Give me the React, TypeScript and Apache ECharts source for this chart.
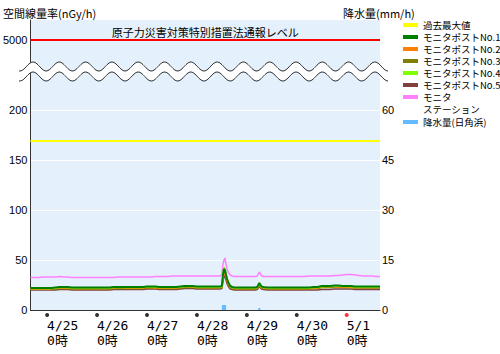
import React, { useEffect, useRef } from 'react';
import * as echarts from 'echarts';

// hours from 4/25 0:00
const TIMES = [
  -8, -6, -4, -2, 0, 2, 4, 6, 8, 10, 12, 14, 16, 18, 20, 22,
  24, 26, 28, 30, 32, 34, 36, 38, 40, 42, 44, 46,
  48, 50, 52, 54, 56, 58, 60, 62, 64, 66, 68, 70,
  72, 74, 76, 78, 80, 82,
  83, 84, 84.5, 85, 85.5, 86, 86.5, 87, 88, 89,
  90, 92, 94,
  96, 98, 100, 101, 102, 103, 104, 106, 108, 110, 112, 114, 116, 118,
  120, 122, 124, 126, 128, 130, 132, 134, 136, 138, 140, 142,
  144, 146, 148, 150, 152, 154, 156, 158, 160,
];

const POST1 = [
  22, 22, 22, 22, 22, 22, 22.5, 23, 23, 23, 22.5, 22.5, 22.5, 22.5, 22.5, 22.5,
  22.5, 22.5, 22.5, 22.5, 23, 23, 23, 23, 23, 23, 23, 23,
  23.5, 23.5, 23.5, 23, 23, 23, 23, 23, 23.5, 24, 24, 24,
  23.5, 23.5, 23.5, 23.5, 23.5, 23.5,
  23.5, 24, 35, 41, 40, 35, 31, 28, 24, 23,
  22.5, 22.5, 22.5,
  22.5, 22.5, 22.5, 23, 27, 23.5, 23, 22.5, 22.5, 22.5, 22.5, 22.5, 22.5, 22.5,
  22.5, 22.5, 22.5, 22.5, 23, 23, 24, 24, 24, 24.5, 24.5, 24,
  24, 24, 23.5, 23.5, 23.5, 23.5, 23.5, 23.5, 23.5,
];
const POST2 = [
  21, 21, 21, 21, 21, 21.5, 21.5, 22, 22, 22, 21.5, 21.5, 21.5, 21.5, 21.5, 21.5,
  21.5, 21.5, 21.5, 21.5, 22, 22.5, 22.5, 22, 22, 22, 22, 22,
  22.5, 22.5, 22, 22, 22, 22, 22, 22, 22.5, 23.5, 23.5, 23,
  22.5, 22.5, 22.5, 22.5, 22.5, 22.5,
  22.5, 23, 31, 37, 37, 33, 29, 26, 23, 22,
  21.5, 21.5, 21.5,
  21.5, 21.5, 21.5, 22, 25, 22.5, 22, 21.5, 21.5, 21.5, 21.5, 21.5, 21.5, 21.5,
  21.5, 21.5, 21.5, 21.5, 22, 22, 23, 23.5, 23.5, 23.5, 23, 23,
  23, 22.5, 22.5, 22.5, 22.5, 22.5, 22.5, 22.5, 22.5,
];
const POST3 = [
  21, 21, 21, 21, 21, 21, 21, 21.5, 21.5, 21.5, 21, 21, 21, 21, 21, 21,
  21, 21, 21, 21, 21.5, 21.5, 21.5, 21.5, 21.5, 21.5, 21.5, 21.5,
  22, 22, 22, 21.5, 21.5, 21.5, 21.5, 21.5, 22, 22.5, 22.5, 22.5,
  22, 22, 22, 22, 22, 22,
  22, 22.5, 33, 39, 38, 33, 29, 26, 22.5, 21.5,
  21, 21, 21,
  21, 21, 21, 21.5, 25.5, 22, 21.5, 21, 21, 21, 21, 21, 21, 21,
  21, 21, 21, 21, 21.5, 21.5, 22.5, 22.5, 22.5, 23, 23, 22.5,
  22.5, 22.5, 22, 22, 22, 22, 22, 22, 22,
];
const POST4 = [
  21.5, 21.5, 21.5, 21.5, 21.5, 21.5, 22, 22.5, 22.5, 22.5, 22, 22, 22, 22, 22, 22,
  22, 22, 22, 22, 22.5, 22.5, 22.5, 22.5, 22.5, 22.5, 22.5, 22.5,
  23, 23, 23, 22.5, 22.5, 22.5, 22.5, 22.5, 23, 23.5, 23.5, 23.5,
  23, 23, 23, 23, 23, 23,
  23, 23.5, 36, 43, 41, 36, 32, 28, 23.5, 22.5,
  22, 22, 22,
  22, 22, 22, 22.5, 26.5, 23, 22.5, 22, 22, 22, 22, 22, 22, 22,
  22, 22, 22, 22, 22.5, 22.5, 23.5, 23.5, 23.5, 24, 24, 23.5,
  23.5, 23.5, 23, 23, 23, 23, 23, 23, 23,
];
const POST5 = [
  20, 20, 20, 20, 20, 20, 20, 20.5, 20.5, 20.5, 20, 20, 20, 20, 20, 20,
  20, 20, 20, 20, 20.5, 20.5, 20.5, 20.5, 20.5, 20.5, 20.5, 20.5,
  21, 21, 21, 20.5, 20.5, 20.5, 20.5, 20.5, 21, 21.5, 21.5, 21.5,
  21, 21, 21, 21, 21, 21,
  21, 21.5, 28, 34, 34, 30, 26, 24, 21, 20.5,
  20, 20, 20,
  20, 20, 20, 20.5, 23.5, 21, 20.5, 20, 20, 20, 20, 20, 20, 20,
  20, 20, 20, 20, 20, 20, 20.5, 20.5, 20.5, 21, 21, 21,
  21, 21, 20.5, 20.5, 20.5, 20.5, 20.5, 20.5, 20.5,
];
const STATION = [
  32.5, 32.5, 32.5, 33, 33, 33, 33, 33.5, 33, 33, 32.5, 32.5, 32.5, 32.5, 32.5, 32.5,
  32.5, 32.5, 32.5, 32.5, 32.5, 33, 33, 33, 33, 33, 33, 33,
  33, 33, 33.5, 33.5, 33.5, 33.5, 34, 34, 34, 34, 34, 34,
  34, 34, 34, 34, 34, 34,
  34, 35, 45, 50, 52, 46, 41, 38, 35, 34,
  33.5, 33.5, 33.5,
  33.5, 33.5, 33.5, 34, 38, 34.5, 33.5, 33.5, 33.5, 33.5, 33.5, 33.5, 33.5, 33.5,
  33.5, 33.5, 33.5, 34, 34, 34, 34, 34, 34, 34.5, 34.5, 35,
  35.5, 35.5, 35, 34.5, 34, 34, 34, 33.5, 33.5,
];

const RAIN_TIMES = [84.5, 85.5, 102];
const RAIN_VALUES = [1.5, 1.5, 0.6];

const PAST_MAX = 169;
const NOTIFY_LABEL = '5000';
const NOTIFY_POS = 270; // axis position of the 5000 line above the break

const LEFT_TICKS = [0, 50, 100, 150, 200];
const RIGHT_TICKS = [0, 15, 30, 45, 60];
const DAY_HOURS = [0, 24, 48, 72, 96, 120, 144];
const DAY_LABELS = ['4/25', '4/26', '4/27', '4/28', '4/29', '4/30', '5/1'];

const NAMES = {
  max: '過去最大値',
  p1: 'モニタポストNo.1',
  p2: 'モニタポストNo.2',
  p3: 'モニタポストNo.3',
  p4: 'モニタポストNo.4',
  p5: 'モニタポストNo.5',
  st: 'モニタステーション',
  rain: '降水量(日角浜)',
};

const pairs = (ts: number[], vs: number[]) => ts.map((t, i) => [t, vs[i]]);

function wave(c: number) {
  const pts: number[][] = [];
  for (let x = 19; x <= 388; x += 1) {
    pts.push([x, c - 4.5 * Math.cos((2 * Math.PI * (x - 33)) / 26.3)]);
  }
  return pts;
}

const LEGEND_FONT = { fontSize: 9.5, lineHeight: 12, color: '#000', fontFamily: 'Noto Sans CJK JP' };

export default function App() {
  const ref = useRef<HTMLDivElement>(null);
  useEffect(() => {
    if (!ref.current) return;
    const chart = echarts.init(ref.current, undefined, { renderer: 'svg' });
    const topW = wave(66.5);
    const botW = wave(76.5);
    const lineSeries = (name: string, data: number[], color: string, width: number) => ({
      name,
      type: 'line',
      data: pairs(TIMES, data),
      showSymbol: false,
      symbol: 'none',
      lineStyle: { color, width },
      itemStyle: { color },
      z: 3,
    });
    const legendBase = {
      orient: 'vertical',
      left: 403,
      padding: 0,
      itemGap: 0,
      itemWidth: 15,
      itemHeight: 4,
      icon: 'rect',
      selectedMode: false,
      textStyle: LEGEND_FONT,
    };
    const option: any = {
      animation: false,
      backgroundColor: '#ffffff',
      textStyle: { fontFamily: "'Liberation Sans', 'Noto Sans CJK JP', sans-serif" },
      grid: {
        left: 30,
        right: 120,
        top: 20,
        bottom: 44,
        show: true,
        backgroundColor: '#e4f0fc',
        borderWidth: 0,
      },
      legend: [
        {
          ...legendBase,
          top: 19,
          formatter: (n: string) => (n === NAMES.st ? 'モニタ' : n),
          data: [NAMES.max, NAMES.p1, NAMES.p2, NAMES.p3, NAMES.p4, NAMES.p5, NAMES.st],
        },
        {
          ...legendBase,
          top: 116,
          data: [NAMES.rain],
        },
      ],
      xAxis: {
        type: 'value',
        min: -8,
        max: 160,
        axisLine: { show: true, onZero: false, lineStyle: { color: '#333', width: 1 } },
        axisTick: { show: false, customValues: DAY_HOURS },
        splitLine: { show: false },
        axisLabel: {
          customValues: DAY_HOURS,
          formatter: (v: number) => `${DAY_LABELS[Math.round(v / 24)]}\n0時`,
          align: 'left',
          margin: 8,
          lineHeight: 15,
          fontSize: 13,
          color: '#000',
          fontFamily: "'DejaVu Sans Mono', 'Noto Sans CJK JP', monospace",
        },
      },
      yAxis: [
        {
          type: 'value',
          min: 0,
          max: 290,
          axisLine: { show: true, onZero: false, lineStyle: { color: '#333', width: 1 } },
          axisTick: { show: false, customValues: LEFT_TICKS },
          splitLine: { show: true, lineStyle: { color: '#ffffff', width: 1 } },
          axisLabel: {
            customValues: [...LEFT_TICKS, NOTIFY_POS],
            formatter: (v: number) => (v === NOTIFY_POS ? NOTIFY_LABEL : String(v)),
            fontSize: 11,
            color: '#000',
            margin: 3,
            padding: [0, 0, 7, 0],
          },
        },
        {
          type: 'value',
          position: 'right',
          min: 0,
          max: 87,
          axisLine: { show: false, onZero: false },
          axisTick: { show: false, customValues: RIGHT_TICKS },
          splitLine: { show: false },
          axisLabel: {
            customValues: RIGHT_TICKS,
            fontSize: 11,
            color: '#000',
            margin: 2,
            padding: [0, 0, 7, 0],
          },
        },
      ],
      series: [
        {
          name: '通報レベル',
          type: 'line',
          data: [],
          symbol: 'none',
          markLine: {
            silent: true,
            symbol: ['none', 'none'],
            lineStyle: { color: '#ff0000', width: 2, type: 'solid' },
            label: {
              show: true,
              position: 'insideMiddleTop',
              formatter: '原子力災害対策特別措置法通報レベル',
              color: '#000',
              fontSize: 11,
              fontFamily: 'Noto Sans CJK JP',
              distance: 3,
            },
            data: [{ yAxis: NOTIFY_POS }],
          },
        },
        {
          name: NAMES.max,
          type: 'line',
          data: [],
          symbol: 'none',
          itemStyle: { color: '#ffff00' },
          lineStyle: { color: '#ffff00' },
          markLine: {
            silent: true,
            symbol: ['none', 'none'],
            lineStyle: { color: '#ffff00', width: 2, type: 'solid' },
            label: { show: false },
            data: [{ yAxis: PAST_MAX }],
          },
        },
        {
          name: NAMES.rain,
          type: 'bar',
          yAxisIndex: 1,
          data: pairs(RAIN_TIMES, RAIN_VALUES),
          barWidth: 2.1,
          itemStyle: { color: '#66bbff' },
        },
        lineSeries(NAMES.st, STATION, '#ff80ff', 1.5),
        lineSeries(NAMES.p5, POST5, '#804040', 1.5),
        lineSeries(NAMES.p3, POST3, '#808000', 1.5),
        lineSeries(NAMES.p2, POST2, '#ff8000', 1.5),
        lineSeries(NAMES.p4, POST4, '#80ff00', 1.5),
        lineSeries(NAMES.p1, POST1, '#008000', 2),
        {
          name: 'dots',
          type: 'scatter',
          clip: false,
          silent: true,
          symbolSize: 4,
          data: DAY_HOURS.map((h, i) => ({
            value: [h, -5],
            itemStyle: { color: i === DAY_HOURS.length - 1 ? '#ff0000' : '#000000' },
          })),
        },
      ],
      graphic: [
        {
          type: 'polygon',
          z: 100,
          shape: { points: topW.concat(botW.slice().reverse()) },
          style: { fill: '#ffffff' },
        },
        {
          type: 'polyline',
          z: 101,
          shape: { points: topW },
          style: { stroke: '#333', lineWidth: 1, fill: null },
        },
        {
          type: 'polyline',
          z: 101,
          shape: { points: botW },
          style: { stroke: '#333', lineWidth: 1, fill: null },
        },
        {
          type: 'text',
          x: 3,
          y: 13,
          style: {
            text: '空間線量率(nGy/h)',
            fill: '#000',
            fontSize: 11,
            fontFamily: 'Noto Sans CJK JP',
            verticalAlign: 'middle',
          },
        },
        {
          type: 'text',
          x: 343,
          y: 13,
          style: {
            text: '降水量(mm/h)',
            fill: '#000',
            fontSize: 11,
            fontFamily: 'Noto Sans CJK JP',
            verticalAlign: 'middle',
          },
        },
        {
          type: 'text',
          x: 423,
          y: 109,
          style: {
            text: 'ステーション',
            fill: '#000',
            fontSize: 9.5,
            fontFamily: 'Noto Sans CJK JP',
            verticalAlign: 'middle',
          },
        },
      ],
    };
    chart.setOption(option);
    return () => chart.dispose();
  }, []);
  return (
    <div
      ref={ref}
      style={{ position: 'fixed', left: 0, top: 0, width: 500, height: 354 }}
    />
  );
}
